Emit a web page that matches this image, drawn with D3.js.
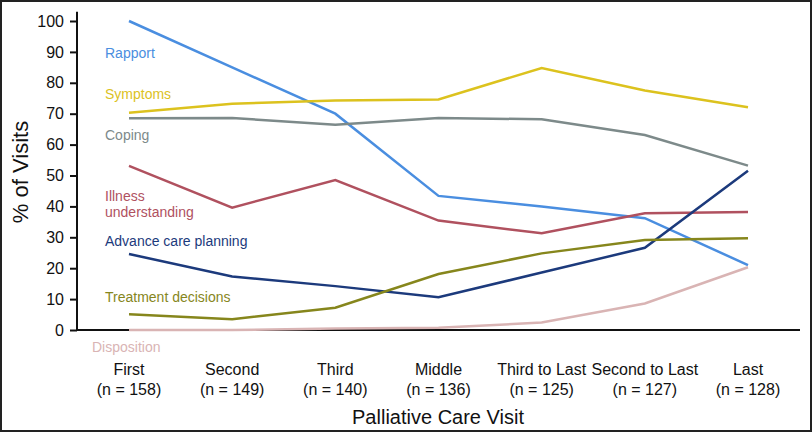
<!DOCTYPE html>
<html lang="en">
<head>
  <meta charset="UTF-8">
  <title>Palliative Care Visit Topics</title>
  <script src="https://d3js.org/d3.v7.min.js"></script>
  <style>
    body { margin: 0; background: #fff; }
    svg { display: block; }
    .tick-label { font-family: "Liberation Sans", Arial, sans-serif; font-size: 16px; fill: #111; }
    .cat-label { font-family: "Liberation Sans", Arial, sans-serif; font-size: 16px; fill: #111; }
    .series-label { font-family: "Liberation Sans", Arial, sans-serif; font-size: 14px; }
  </style>
</head>
<body>
  <svg id="chart" width="812" height="432"></svg>
  <script>
    // Visit categories and sample sizes
    const visits = ['First', 'Second', 'Third', 'Middle', 'Third to Last', 'Second to Last', 'Last'];
    const sampleSizes = ['(n = 158)', '(n = 149)', '(n = 140)', '(n = 136)', '(n = 125)', '(n = 127)', '(n = 128)'];
    const yTicks = [0, 10, 20, 30, 40, 50, 60, 70, 80, 90, 100];

    // % of visits per topic
    const rapport = [100, 85, 70, 43.4, 40, 36.2, 21];
    const symptoms = [70.3, 73.2, 74.3, 74.6, 84.8, 77.5, 72.1];
    const coping = [68.5, 68.6, 66.4, 68.6, 68.2, 63.1, 53.2];
    const illness = [53.1, 39.6, 48.5, 35.4, 31.3, 37.8, 38.2];
    const advanceCare = [24.6, 17.3, 14.2, 10.6, 18.6, 26.6, 51.5];
    const treatment = [5.1, 3.5, 7.2, 18.1, 24.8, 29.1, 29.7];
    const disposition = [0, 0, 0.5, 0.7, 2.4, 8.6, 20.3];

    const series = [
      {name: ['Rapport'], values: rapport, color: '#4a8ee0', labelY: 88},
      {name: ['Symptoms'], values: symptoms, color: '#dcc21e', labelY: 74.8},
      {name: ['Coping'], values: coping, color: '#7d8a8a', labelY: 61.5},
      {name: ['Illness', 'understanding'], values: illness, color: '#b0515f', labelY: 41.7},
      {name: ['Advance care planning'], values: advanceCare, color: '#1c3a7c', labelY: 27.2},
      {name: ['Treatment decisions'], values: treatment, color: '#86861c', labelY: 9.1},
      {name: ['Disposition'], values: disposition, color: '#d9b4b4', labelY: -7.1}
    ];

    const svg = d3.select('#chart');

    // Outer frame
    svg.append('rect')
      .attr('x', 1).attr('y', 1)
      .attr('width', 810).attr('height', 430)
      .attr('fill', 'none')
      .attr('stroke', '#222')
      .attr('stroke-width', 2);

    const xScale = d3.scalePoint().domain(visits).range([129, 748]);
    const yScale = d3.scaleLinear().domain([0, 100]).range([330, 21]);

    // Y axis
    const yAxis = d3.axisLeft(yScale).tickValues(yTicks).tickSize(7).tickPadding(6);
    const yg = svg.append('g').attr('transform', 'translate(77,0)').call(yAxis);
    yg.select('.domain').remove();
    yg.selectAll('.tick line').attr('stroke', '#111').attr('stroke-width', 2);
    yg.selectAll('.tick text').attr('class', 'tick-label').attr('font-size', null).attr('font-family', null);
    yg.append('line')
      .attr('x1', 0).attr('x2', 0)
      .attr('y1', yScale(103)).attr('y2', yScale(0))
      .attr('stroke', '#111').attr('stroke-width', 2);

    // X axis line
    svg.append('line')
      .attr('x1', 77).attr('x2', 800)
      .attr('y1', yScale(0)).attr('y2', yScale(0))
      .attr('stroke', '#111').attr('stroke-width', 2);

    // Category labels
    const xl = svg.append('g');
    visits.forEach((v, i) => {
      xl.append('text').attr('class', 'cat-label')
        .attr('x', xScale(v)).attr('y', 375)
        .attr('text-anchor', 'middle').text(v);
      xl.append('text').attr('class', 'cat-label')
        .attr('x', xScale(v)).attr('y', 395)
        .attr('text-anchor', 'middle').text(sampleSizes[i]);
    });

    // Axis titles
    svg.append('text')
      .attr('x', 438).attr('y', 424)
      .attr('text-anchor', 'middle')
      .style('font-family', '"Liberation Sans", Arial, sans-serif')
      .style('font-size', '20px')
      .attr('fill', '#111')
      .text('Palliative Care Visit');

    svg.append('text')
      .attr('transform', 'translate(28,172) rotate(-90)')
      .attr('text-anchor', 'middle')
      .style('font-family', '"Liberation Sans", Arial, sans-serif')
      .style('font-size', '22px')
      .attr('fill', '#111')
      .text('% of Visits');

    // Lines
    const line = d3.line()
      .x((d, i) => xScale(visits[i]))
      .y(d => yScale(d));

    series.forEach(s => {
      svg.append('path')
        .datum(s.values)
        .attr('d', line)
        .attr('fill', 'none')
        .attr('stroke', s.color)
        .attr('stroke-width', 2.5)
        .attr('stroke-linejoin', 'miter');
    });

    // Series labels
    series.forEach(s => {
      const t = svg.append('text').attr('class', 'series-label')
        .attr('x', 105)
        .attr('y', yScale(s.labelY))
        .attr('fill', s.color);
      s.name.forEach((n, j) => {
        t.append('tspan').attr('x', s.name[0] === 'Disposition' ? 92 : 105)
          .attr('dy', j === 0 ? 0 : 16).text(n);
      });
    });
  </script>
</body>
</html>
